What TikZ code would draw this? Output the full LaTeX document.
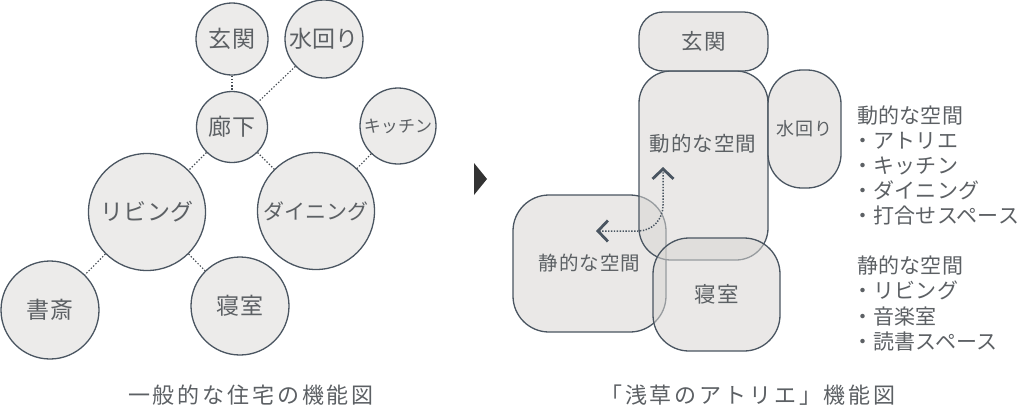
\documentclass[tikz,border=0pt]{standalone}
\usepackage{fontspec}
\newfontfamily\jpN[LetterSpace=5]{Noto Sans CJK JP}
\newfontfamily\jpL[LetterSpace=1]{Noto Sans CJK JP}
\newfontfamily\jpC[LetterSpace=13]{Noto Sans CJK JP}
\usetikzlibrary{arrows.meta}
\definecolor{fillc}{HTML}{ECEBEA}
\definecolor{boxfill}{HTML}{D8D6D3}
\definecolor{linec}{HTML}{4A5561}
\definecolor{textc}{HTML}{5C6064}
\definecolor{dotc}{HTML}{454C53}
\begin{document}
\begin{tikzpicture}[x=1pt,y=-1pt,
  bubble/.style={circle,draw=linec,line width=1.3pt,fill=fillc,inner sep=0pt,
    minimum size=#1,text=textc,font=\jpL\fontsize{23}{23}\selectfont},
  room/.style n args={3}{rectangle,draw=linec,line width=1.3pt,fill=boxfill,
    fill opacity=0.55,text opacity=1,inner sep=0pt,minimum width=#1,minimum height=#2,
    rounded corners=#3,text=textc,font=\jpN\fontsize{21.5}{21.5}\selectfont},
  link/.style={draw=dotc,line width=1.1pt,dash pattern=on 1.4pt off 1.8pt},
  flow/.style={draw=linec,line width=1.5pt,dash pattern=on 1.4pt off 1.5pt,
    {Straight Barb[length=10pt,width=21pt,line width=2.8pt]}-{Straight Barb[length=10pt,width=21pt,line width=2.8pt]}},
  listtext/.style={anchor=base west,inner sep=0pt,text=textc,font=\jpL\fontsize{21}{21}\selectfont},
  caption/.style={inner sep=0pt,text=textc,font=\jpC\fontsize{22}{22}\selectfont}
]
\useasboundingbox (0,0) rectangle (1024,416);

% ---------- left: bubbles ----------
\node[bubble=72] (genkan) at (232,39) {玄関};
\node[bubble=78] (mizu) at (324,39) {水回り};
\node[bubble=71] (rouka) at (232,127) {廊下};
\node[bubble=76,font=\jpL\fontsize{17}{17}\selectfont] (kitchen) at (398,126) {キッチン};
\node[bubble=117] (living) at (147,212) {リビング};
\node[bubble=117,font=\jpL\fontsize{21}{21}\selectfont] (dining) at (316,211) {ダイニング};
\node[bubble=98] (shosai) at (50,310) {書斎};
\node[bubble=98] (shinshitsu) at (240,306) {寝室};

\draw[link] (genkan) -- (rouka);
\draw[link] (mizu) -- (rouka);
\draw[link] (rouka) -- (living);
\draw[link] (rouka) -- (dining);
\draw[link] (kitchen) -- (dining);
\draw[link] (living) -- (shosai);
\draw[link] (living) -- (shinshitsu);

\node[caption] (capL) at (251,395) {一般的な住宅の機能図};

% ---------- triangle ----------
\fill[fill=black!80] (474,163) -- (487,179) -- (474,195) -- cycle;

% ---------- right: zones ----------
\node[room={153}{137}{36},font=\jpN\fontsize{19.5}{19.5}\selectfont] (seiteki) at (589.5,263.5) {静的な空間};
\node[room={129}{189}{32}] (douteki) at (703.5,165.5) {};
\node[room={129}{59}{24}] (genkan2) at (703.5,41.5) {玄関};
\node[room={73}{118}{34},font=\jpN\fontsize{18}{18}\selectfont] (mizu2) at (804.5,129) {水回り};
\node[room={127}{113}{36}] (shinshitsu2) at (716.5,294.5) {寝室};
\node[inner sep=0pt,text=textc,font=\jpN\fontsize{20.5}{20.5}\selectfont] (doutekiT) at (703,144) {動的な空間};

\coordinate (fl) at (596,231);
\coordinate (fc) at (638,231);
\coordinate (fu) at (663,205);
\coordinate (ft) at (663,167);
\draw[flow] (fl) -- (fc) .. controls (652,231) and (663,220) .. (fu) -- (ft);

% ---------- right: lists ----------
\node[listtext] (h1) at (857,123) {動的な空間};
\node[listtext] (a1) at (852,148) {・アトリエ};
\node[listtext] (a2) at (852,173) {・キッチン};
\node[listtext] (a3) at (852,198) {・ダイニング};
\node[listtext] (a4) at (852,223) {・打合せスペース};
\node[listtext] (h2) at (857,273) {静的な空間};
\node[listtext] (b1) at (852,298.5) {・リビング};
\node[listtext] (b2) at (852,324) {・音楽室};
\node[listtext] (b3) at (852,349.5) {・読書スペース};

\node[caption] (capR) at (748,395) {「浅草のアトリエ」機能図};
\end{tikzpicture}
\end{document}
